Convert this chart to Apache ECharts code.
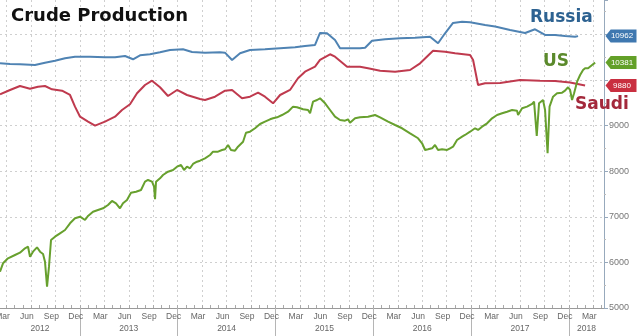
<!DOCTYPE html>
<html><head><meta charset="utf-8">
<script src="https://cdn.jsdelivr.net/npm/echarts@6/dist/echarts.min.js"></script>
<style>html,body{margin:0;padding:0;background:#fff}#c{width:640px;height:336px}</style>
</head><body><div id="c"></div>
<script>
// x values are months since 1 Jan 2012 (0 = Jan 2012)
const monthNames = ['Jan','Feb','Mar','Apr','May','Jun','Jul','Aug','Sep','Oct','Nov','Dec'];
const monthTickLabels = ['Mar','Jun','Sep','Dec'];
const yearLabels = [2012,2013,2014,2015,2016,2017,2018];
const seriesNames = ['Russia','Saudi','US'];

const russiaT = [2.2,3.43,4.65,6.49,7.72,8.95,10.18,11.4,13.24,15.08,16.31,17.54,18.52,19.38,20.6,21.83,23.06,24.65,25.76,27.35,29.19,29.8,30.67,31.65,32.87,34.71,36.56,38.4,39.62,40.85,41.46,42.32,43.3,43.92,46.37,46.99,47.84,49.44,51.28,53.12,54.96,55.94,56.8,57.78,58.89,59.87,61.71,62.94,64.78,66.62,67.84,69.07,70.3,71.52,72.75,73.12];
const russiaV = [10366,10351,10344,10329,10379,10423,10476,10511,10511,10498,10498,10526,10454,10542,10564,10607,10658,10673,10614,10599,10607,10599,10439,10586,10658,10673,10695,10717,10746,10768,11031,11024,10877,10695,10695,10708,10862,10893,10914,10928,10950,10805,11024,11250,11279,11265,11206,11173,11097,11031,11112,10987,10987,10965,10950,10962];

const saudiT = [2.2,3.43,4.65,5.88,6.86,7.72,8.58,9.81,10.79,11.4,12.02,13.0,13.86,15.08,16.31,17.17,18.15,19.01,19.99,20.85,21.83,22.81,23.92,25.14,26.74,27.35,28.58,29.81,30.67,31.89,32.87,33.86,34.71,35.7,36.56,37.78,38.76,39.62,40.85,41.46,42.69,43.3,44.78,46.37,47.35,48.83,50.67,52.51,53.74,55.33,56.8,58.03,59.87,60.24,60.85,61.71,63.55,66.0,68.46,70.3,72.14,73.98];
const saudiV = [9686,9781,9868,9809,9853,9868,9796,9765,9671,9415,9195,9086,8998,9086,9195,9342,9467,9708,9890,9985,9840,9649,9781,9671,9583,9561,9634,9765,9781,9599,9634,9722,9634,9489,9671,9781,10037,10182,10292,10439,10564,10511,10292,10292,10257,10204,10182,10219,10366,10643,10621,10585,10548,10439,9890,9928,9934,10000,9985,9978,9945,9880];

const usT = [2.2,2.57,3.18,4.04,4.65,5.27,5.64,5.88,6.25,6.74,7.11,7.48,7.72,7.97,8.21,8.46,8.95,9.56,10.18,10.79,11.4,12.02,12.63,13.0,13.61,14.22,14.84,15.45,15.94,16.43,16.92,17.29,17.78,18.27,18.89,19.5,19.99,20.36,20.85,21.1,21.22,21.34,21.83,22.2,22.81,23.43,23.92,24.41,24.78,25.14,25.51,25.88,26.37,26.74,27.35,27.97,28.33,28.95,29.44,29.81,30.18,30.54,31.03,31.4,32.02,32.38,32.87,33.49,34.1,34.71,35.33,35.7,36.19,36.8,37.54,38.15,38.64,39.38,39.99,40.24,40.6,41.1,41.46,42.08,42.69,43.3,43.92,44.53,44.9,45.14,45.76,46.37,47.35,48.21,48.83,49.81,50.67,51.53,52.51,53.49,53.98,54.35,54.72,55.21,55.57,55.94,56.43,57.05,57.42,57.78,58.27,58.89,59.25,59.87,60.48,60.85,61.34,61.96,62.57,63.18,63.8,64.41,65.02,65.63,65.76,66.25,66.86,67.48,67.72,68.05,68.33,68.82,69.07,69.38,69.62,70.05,70.54,71.16,71.52,71.89,72.14,72.38,72.63,73.0,73.37,73.73,73.98,74.35,74.84,75.21];
const usV = [5796,5980,6090,6162,6213,6309,6344,6125,6235,6331,6235,6184,6015,5467,5906,6491,6564,6638,6711,6857,6967,7002,6930,7018,7112,7149,7186,7259,7347,7296,7186,7296,7368,7528,7550,7588,7770,7807,7770,7660,7384,7770,7844,7917,7989,8026,8099,8136,8026,8099,8064,8158,8208,8230,8283,8355,8428,8428,8465,8480,8575,8465,8450,8537,8647,8844,8866,8941,9035,9086,9138,9160,9182,9232,9305,9415,9401,9357,9342,9270,9524,9561,9599,9489,9342,9195,9123,9107,9138,9064,9160,9182,9195,9232,9182,9086,9013,8941,8831,8722,8612,8465,8480,8502,8575,8465,8480,8465,8502,8537,8684,8757,8794,8866,8941,8904,8976,9050,9160,9232,9270,9305,9342,9327,9232,9379,9415,9474,9524,8772,9489,9561,9342,8393,9415,9634,9708,9722,9765,9840,9781,9561,9708,9963,10110,10219,10257,10257,10329,10381];

const X_MIN = 2.2, X_MAX = 76.3;
const lineColors = {Russia:'#4f83b3', Saudi:'#bf3a4e', US:'#67a02e'};
const tagColors = {Russia:'#3f78b0', Saudi:'#c92f40', US:'#63a028'};
const textColors = {Russia:'#2d6291', Saudi:'#a3283b', US:'#5b8a2c'};

const monthLabelVals = [], monthTickVals = [], quarterVals = [], yearSepVals = [], yearLabelVals = [];
for (let k = 0; k <= 80; k++) {
  if (k >= X_MIN && k <= X_MAX) monthTickVals.push(k);
  if (k % 3 === 0 && k >= X_MIN && k <= X_MAX) quarterVals.push(k);
  if (k % 12 === 0 && k > X_MIN && k < X_MAX) yearSepVals.push(k);
  if (monthTickLabels.indexOf(monthNames[k % 12]) >= 0 && k + 0.5 >= X_MIN && k + 0.5 <= X_MAX) monthLabelVals.push(k + 0.5);
}
yearLabels.forEach(y => {
  const s = Math.max((y - 2012) * 12, X_MIN), e = Math.min((y - 2012) * 12 + 12, X_MAX);
  yearLabelVals.push((s + e) / 2);
});

const pairs = (T, V) => T.map((t, i) => [t, V[i]]);
const dataMap = {Russia: pairs(russiaT, russiaV), Saudi: pairs(saudiT, saudiV), US: pairs(usT, usV)};

function mkSeries(name) {
  const d = dataMap[name];
  const last = d[d.length - 1][1];
  return {
    name, type: 'line', data: d, showSymbol: false, symbol: 'none', animation: false,
    lineStyle: {color: lineColors[name], width: 2}, itemStyle: {color: lineColors[name]},
    markPoint: {
      silent: true, animation: false,
      symbol: 'path://M0,6L6,0L36,0L36,12L6,12Z', symbolSize: [31, 13], symbolOffset: [17, 0],
      itemStyle: {color: tagColors[name]},
      label: {show: true, color: '#fff', fontSize: 8, fontFamily: 'Liberation Sans', offset: [1, 0], formatter: String(last)},
      data: [{coord: [X_MAX, last], value: last}]
    }
  };
}

const chart = echarts.init(document.getElementById('c'), null, {renderer: 'canvas'});
chart.setOption({
  backgroundColor: '#fff',
  animation: false,
  title: {text: 'Crude Production', left: 6, top: 2,
    textStyle: {fontFamily: 'DejaVu Sans', fontWeight: 'bold', fontSize: 18, color: '#111'}},
  grid: {left: 0, right: 36, top: 0, bottom: 28, containLabel: false, outerBoundsMode: 'none'},
  xAxis: [
    {type: 'value', position: 'bottom', min: X_MIN, max: X_MAX,
      axisLine: {show: true, onZero: false, lineStyle: {color: '#9a9a9a', width: 1}},
      axisTick: {show: true, inside: true, length: 3, customValues: monthTickVals, lineStyle: {color: '#aaa'}},
      axisLabel: {show: true, customValues: monthLabelVals, margin: 4, fontSize: 8.5, fontFamily: 'Liberation Sans', color: '#666',
        formatter: v => monthNames[Math.floor(v) % 12]},
      splitLine: {show: false}},
    {type: 'value', position: 'bottom', min: X_MIN, max: X_MAX,
      axisLine: {show: false, onZero: false},
      axisTick: {show: true, length: 28, customValues: yearSepVals, lineStyle: {color: '#b5b5b5'}},
      axisLabel: {show: true, customValues: yearLabelVals, margin: 16, fontSize: 8.5, fontFamily: 'Liberation Sans', color: '#666',
        formatter: v => String(2012 + Math.floor(v / 12))},
      splitLine: {show: false}},
    {type: 'value', position: 'bottom', min: X_MIN, max: X_MAX,
      axisLine: {show: false, onZero: false},
      axisTick: {show: false, customValues: quarterVals},
      axisLabel: {show: false},
      splitLine: {show: true, lineStyle: {color: '#cfcfcf', type: [2, 3], width: 1}}}
  ],
  yAxis: {type: 'value', position: 'right', min: 5000, max: 11754, interval: 1000,
    axisLine: {show: true, lineStyle: {color: '#97a9bc', width: 1}},
    axisTick: {show: true, length: 4, lineStyle: {color: '#97a9bc'}},
    minorTick: {show: true, splitNumber: 2, length: 2, lineStyle: {color: '#bbb'}},
    axisLabel: {color: '#777', fontSize: 9, fontFamily: 'Liberation Sans', margin: 5,
      formatter: v => (v < 10000 && v % 1000 === 0) ? String(v) : ''},
    splitLine: {show: true, showMinLine: false, showMaxLine: false, lineStyle: {color: '#cfcfcf', type: [2, 3], width: 1}}},
  graphic: [
    {type: 'text', left: 530, top: 9, z: 10, style: {text: 'Russia', font: 'bold 17px "DejaVu Sans"', fill: textColors.Russia}},
    {type: 'text', left: 543, top: 53, z: 10, style: {text: 'US', font: 'bold 17px "DejaVu Sans"', fill: textColors.US}},
    {type: 'text', left: 575, top: 96, z: 10, style: {text: 'Saudi', font: 'bold 17px "DejaVu Sans"', fill: textColors.Saudi}}
  ],
  series: seriesNames.map(mkSeries)
});
</script>
</body></html>
